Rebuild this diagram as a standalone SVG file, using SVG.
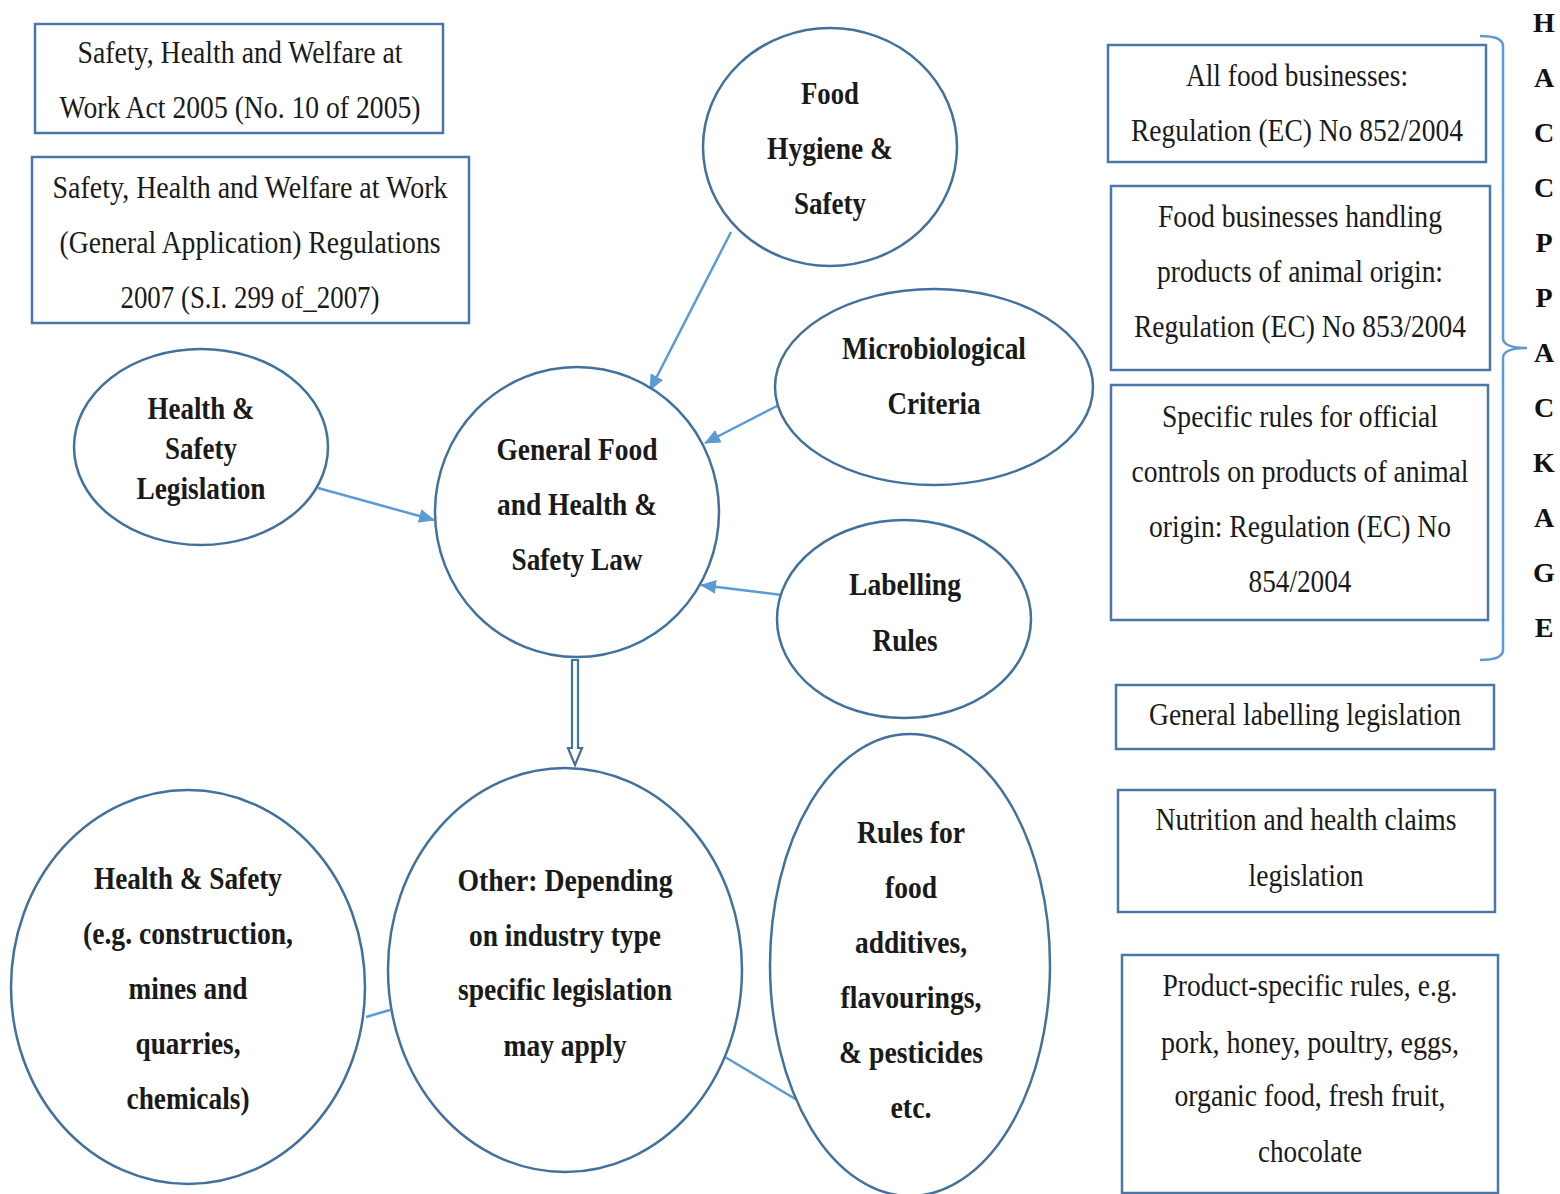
<svg xmlns="http://www.w3.org/2000/svg" width="1560" height="1194" viewBox="0 0 1560 1194">
  <style>
    .box { fill: #ffffff; stroke: #4a77a6; stroke-width: 2.5; }
    .node { fill: #ffffff; stroke: #41719c; stroke-width: 2.5; }
    .t { font-family: "Liberation Serif", "Times New Roman", serif; font-size: 31px; fill: #1a1a1a; text-anchor: middle; }
    .b { font-family: "Liberation Serif", "Times New Roman", serif; font-size: 32px; font-weight: bold; fill: #1a1a1a; text-anchor: middle; }
    .h { font-family: "Liberation Serif", "Times New Roman", serif; font-size: 28px; font-weight: bold; fill: #111111; text-anchor: middle; }
    .conn { fill: none; stroke: #5b9bd5; stroke-width: 2.5; }
  </style>
  <defs>
    <marker id="arrow" markerUnits="userSpaceOnUse" markerWidth="18" markerHeight="16" refX="15" refY="7" orient="auto">
      <path d="M0,0 L16,7 L0,14 Z" fill="#5b9bd5"/>
    </marker>
  </defs>
  <rect width="1560" height="1194" fill="#ffffff"/>

  <!-- Left legislation boxes -->
  <g id="box-act-2005">
    <rect class="box" x="35" y="24" width="408" height="109"/>
    <text class="t" x="240" y="63" textLength="325" lengthAdjust="spacingAndGlyphs">Safety, Health and Welfare at</text>
    <text class="t" x="240" y="118" textLength="361" lengthAdjust="spacingAndGlyphs">Work Act 2005 (No. 10 of 2005)</text>
  </g>
  <g id="box-regs-2007">
    <rect class="box" x="32" y="157" width="437" height="166"/>
    <text class="t" x="250" y="198" textLength="395" lengthAdjust="spacingAndGlyphs">Safety, Health and Welfare at Work</text>
    <text class="t" x="250" y="253" textLength="381" lengthAdjust="spacingAndGlyphs">(General Application) Regulations</text>
    <text class="t" x="250" y="308" textLength="259" lengthAdjust="spacingAndGlyphs">2007 (S.I. 299 of_2007)</text>
  </g>

  <!-- Right legislation boxes -->
  <g id="box-852">
    <rect class="box" x="1108" y="45" width="378" height="117"/>
    <text class="t" x="1297" y="86" textLength="222" lengthAdjust="spacingAndGlyphs">All food businesses:</text>
    <text class="t" x="1297" y="141" textLength="332" lengthAdjust="spacingAndGlyphs">Regulation (EC) No 852/2004</text>
  </g>
  <g id="box-853">
    <rect class="box" x="1111" y="186" width="379" height="184"/>
    <text class="t" x="1300" y="227" textLength="284" lengthAdjust="spacingAndGlyphs">Food businesses handling</text>
    <text class="t" x="1300" y="282" textLength="286" lengthAdjust="spacingAndGlyphs">products of animal origin:</text>
    <text class="t" x="1300" y="337" textLength="332" lengthAdjust="spacingAndGlyphs">Regulation (EC) No 853/2004</text>
  </g>
  <g id="box-854">
    <rect class="box" x="1111" y="385" width="377" height="235"/>
    <text class="t" x="1300" y="427" textLength="276" lengthAdjust="spacingAndGlyphs">Specific rules for official</text>
    <text class="t" x="1300" y="482" textLength="337" lengthAdjust="spacingAndGlyphs">controls on products of animal</text>
    <text class="t" x="1300" y="537" textLength="302" lengthAdjust="spacingAndGlyphs">origin: Regulation (EC) No</text>
    <text class="t" x="1300" y="592" textLength="103" lengthAdjust="spacingAndGlyphs">854/2004</text>
  </g>
  <g id="box-general-labelling">
    <rect class="box" x="1116" y="685" width="378" height="64"/>
    <text class="t" x="1305" y="725" textLength="312" lengthAdjust="spacingAndGlyphs">General labelling legislation</text>
  </g>
  <g id="box-nutrition">
    <rect class="box" x="1118" y="790" width="377" height="122"/>
    <text class="t" x="1306" y="830" textLength="301" lengthAdjust="spacingAndGlyphs">Nutrition and health claims</text>
    <text class="t" x="1306" y="886" textLength="115" lengthAdjust="spacingAndGlyphs">legislation</text>
  </g>
  <g id="box-product-specific">
    <rect class="box" x="1122" y="955" width="376" height="238"/>
    <text class="t" x="1310" y="996" textLength="295" lengthAdjust="spacingAndGlyphs">Product-specific rules, e.g.</text>
    <text class="t" x="1310" y="1053" textLength="298" lengthAdjust="spacingAndGlyphs">pork, honey, poultry, eggs,</text>
    <text class="t" x="1310" y="1106" textLength="271" lengthAdjust="spacingAndGlyphs">organic food, fresh fruit,</text>
    <text class="t" x="1310" y="1162" textLength="104" lengthAdjust="spacingAndGlyphs">chocolate</text>
  </g>

  <!-- HACCP package label with brace -->
  <g id="haccp-package">
    <path class="conn" stroke-width="1.8" d="M1480,36 Q1503,36 1503,46 L1503,338 Q1503,348 1527,348 Q1503,348 1503,358 L1503,650 Q1503,660 1480,660"/>
    <text class="h" x="1544" y="32">H</text>
    <text class="h" x="1544" y="87">A</text>
    <text class="h" x="1544" y="142">C</text>
    <text class="h" x="1544" y="197">C</text>
    <text class="h" x="1544" y="252">P</text>
    <text class="h" x="1544" y="307">P</text>
    <text class="h" x="1544" y="362">A</text>
    <text class="h" x="1544" y="417">C</text>
    <text class="h" x="1544" y="472">K</text>
    <text class="h" x="1544" y="527">A</text>
    <text class="h" x="1544" y="582">G</text>
    <text class="h" x="1544" y="637">E</text>
  </g>

  <!-- Connectors -->
  <g id="connectors">
    <line class="conn" x1="731" y1="232" x2="650" y2="390" marker-end="url(#arrow)"/>
    <line class="conn" x1="318" y1="488" x2="434" y2="520" marker-end="url(#arrow)"/>
    <line class="conn" x1="777" y1="406" x2="705" y2="443" marker-end="url(#arrow)"/>
    <line class="conn" x1="782" y1="595" x2="701" y2="585" marker-end="url(#arrow)"/>
    <path d="M572,660 L572,748 L568,748 L575,765 L582,748 L578,748 L578,660 Z" fill="#ffffff" stroke="#41719c" stroke-width="2.2" stroke-linejoin="miter"/>
    <line class="conn" x1="366" y1="1017" x2="390" y2="1010"/>
    <line class="conn" x1="725" y1="1057" x2="797" y2="1100"/>
  </g>

  <!-- Ellipse nodes -->
  <g id="node-food-hygiene">
    <ellipse class="node" cx="830" cy="147" rx="127" ry="119"/>
    <text class="b" x="830" y="104" textLength="58" lengthAdjust="spacingAndGlyphs">Food</text>
    <text class="b" x="830" y="159" textLength="126" lengthAdjust="spacingAndGlyphs">Hygiene &amp;</text>
    <text class="b" x="830" y="214" textLength="72" lengthAdjust="spacingAndGlyphs">Safety</text>
  </g>
  <g id="node-micro">
    <ellipse class="node" cx="934" cy="387" rx="159" ry="98"/>
    <text class="b" x="934" y="359" textLength="184" lengthAdjust="spacingAndGlyphs">Microbiological</text>
    <text class="b" x="934" y="414" textLength="93" lengthAdjust="spacingAndGlyphs">Criteria</text>
  </g>
  <g id="node-hs-legislation">
    <ellipse class="node" cx="201" cy="447" rx="127" ry="98"/>
    <text class="b" x="201" y="419" textLength="107" lengthAdjust="spacingAndGlyphs">Health &amp;</text>
    <text class="b" x="201" y="459" textLength="72" lengthAdjust="spacingAndGlyphs">Safety</text>
    <text class="b" x="201" y="499" textLength="129" lengthAdjust="spacingAndGlyphs">Legislation</text>
  </g>
  <g id="node-general-law">
    <ellipse class="node" cx="577" cy="512" rx="142" ry="145"/>
    <text class="b" x="577" y="460" textLength="161" lengthAdjust="spacingAndGlyphs">General Food</text>
    <text class="b" x="577" y="515" textLength="160" lengthAdjust="spacingAndGlyphs">and Health &amp;</text>
    <text class="b" x="577" y="570" textLength="131" lengthAdjust="spacingAndGlyphs">Safety Law</text>
  </g>
  <g id="node-labelling">
    <ellipse class="node" cx="904" cy="619" rx="127" ry="99"/>
    <text class="b" x="905" y="595" textLength="112" lengthAdjust="spacingAndGlyphs">Labelling</text>
    <text class="b" x="905" y="651" textLength="65" lengthAdjust="spacingAndGlyphs">Rules</text>
  </g>
  <g id="node-hs-sectors">
    <ellipse class="node" cx="188" cy="987" rx="177" ry="197"/>
    <text class="b" x="188" y="889" textLength="188" lengthAdjust="spacingAndGlyphs">Health &amp; Safety</text>
    <text class="b" x="188" y="944" textLength="210" lengthAdjust="spacingAndGlyphs">(e.g. construction,</text>
    <text class="b" x="188" y="999" textLength="119" lengthAdjust="spacingAndGlyphs">mines and</text>
    <text class="b" x="188" y="1054" textLength="105" lengthAdjust="spacingAndGlyphs">quarries,</text>
    <text class="b" x="188" y="1109" textLength="123" lengthAdjust="spacingAndGlyphs">chemicals)</text>
  </g>
  <g id="node-other">
    <ellipse class="node" cx="565" cy="970" rx="177" ry="202"/>
    <text class="b" x="565" y="891" textLength="215" lengthAdjust="spacingAndGlyphs">Other: Depending</text>
    <text class="b" x="565" y="946" textLength="192" lengthAdjust="spacingAndGlyphs">on industry type</text>
    <text class="b" x="565" y="1000" textLength="214" lengthAdjust="spacingAndGlyphs">specific legislation</text>
    <text class="b" x="565" y="1056" textLength="123" lengthAdjust="spacingAndGlyphs">may apply</text>
  </g>
  <g id="node-additives">
    <ellipse class="node" cx="910" cy="965" rx="140" ry="231"/>
    <text class="b" x="911" y="843" textLength="108" lengthAdjust="spacingAndGlyphs">Rules for</text>
    <text class="b" x="911" y="898" textLength="52" lengthAdjust="spacingAndGlyphs">food</text>
    <text class="b" x="911" y="953" textLength="112" lengthAdjust="spacingAndGlyphs">additives,</text>
    <text class="b" x="911" y="1008" textLength="141" lengthAdjust="spacingAndGlyphs">flavourings,</text>
    <text class="b" x="911" y="1063" textLength="144" lengthAdjust="spacingAndGlyphs">&amp; pesticides</text>
    <text class="b" x="911" y="1118" textLength="41" lengthAdjust="spacingAndGlyphs">etc.</text>
  </g>
</svg>
